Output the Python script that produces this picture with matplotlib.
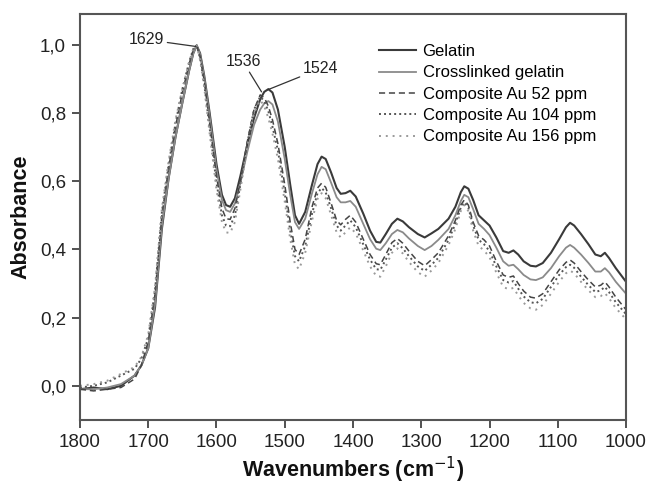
import matplotlib
matplotlib.use('Agg')
import matplotlib.pyplot as plt
import numpy as np

plt.rcParams['font.family'] = ['Liberation Sans', 'DejaVu Sans']

# 파수 (cm-1)
wavenumber = [1800, 1780, 1760, 1740, 1720, 1710, 1700, 1690, 1680, 1670,
              1660, 1650, 1640, 1634, 1629, 1624, 1618, 1610, 1600, 1592,
              1586, 1580, 1573, 1565, 1555, 1545, 1536, 1530, 1524, 1518,
              1510, 1500, 1492, 1485, 1479, 1470, 1460, 1452, 1446, 1440,
              1432, 1424, 1418, 1411, 1404, 1396, 1385, 1375, 1366, 1360,
              1352, 1343, 1335, 1327, 1318, 1305, 1295, 1285, 1275, 1260,
              1250, 1242, 1237, 1231, 1224, 1216, 1208, 1200, 1190, 1180,
              1172, 1165, 1158, 1150, 1140, 1132, 1122, 1110, 1098, 1088,
              1082, 1076, 1066, 1055, 1045, 1037, 1031, 1025, 1015, 1000]

gelatin = [-0.01, -0.005, -0.01, 0.0, 0.03, 0.06, 0.11, 0.23, 0.46, 0.61,
           0.73, 0.83, 0.925, 0.975, 0.998, 0.975, 0.91, 0.80, 0.65, 0.56,
           0.53, 0.525, 0.55, 0.615, 0.705, 0.785, 0.84, 0.862, 0.87, 0.86,
           0.81, 0.70, 0.59, 0.50, 0.475, 0.51, 0.59, 0.65, 0.672, 0.665,
           0.625, 0.58, 0.563, 0.565, 0.572, 0.555, 0.505, 0.455, 0.422, 0.42,
           0.445, 0.475, 0.49, 0.482, 0.465, 0.445, 0.435, 0.447, 0.46, 0.49,
           0.525, 0.568, 0.585, 0.578, 0.545, 0.5, 0.485, 0.47, 0.435, 0.395,
           0.39, 0.397, 0.385, 0.365, 0.352, 0.35, 0.36, 0.39, 0.43, 0.465,
           0.478, 0.47, 0.445, 0.415, 0.385, 0.38, 0.39, 0.375, 0.345, 0.305]

crosslinked = [-0.01, -0.01, -0.005, 0.005, 0.03, 0.06, 0.11, 0.24, 0.47, 0.61,
               0.73, 0.83, 0.925, 0.975, 0.998, 0.972, 0.905, 0.79, 0.635, 0.545,
               0.515, 0.51, 0.535, 0.595, 0.685, 0.765, 0.81, 0.828, 0.835, 0.825,
               0.775, 0.665, 0.56, 0.48, 0.46, 0.49, 0.565, 0.62, 0.642, 0.635,
               0.595, 0.553, 0.538, 0.538, 0.542, 0.525, 0.475, 0.43, 0.402, 0.398,
               0.418, 0.445, 0.457, 0.45, 0.432, 0.41, 0.398, 0.41, 0.428, 0.46,
               0.5, 0.542, 0.56, 0.553, 0.518, 0.475, 0.46, 0.442, 0.405, 0.365,
               0.352, 0.355, 0.342, 0.325, 0.312, 0.31, 0.318, 0.345, 0.38, 0.405,
               0.413, 0.405, 0.385, 0.36, 0.335, 0.335, 0.345, 0.333, 0.305, 0.27]

au52 = [-0.01, -0.015, -0.01, -0.005, 0.02, 0.06, 0.13, 0.27, 0.50, 0.64,
        0.76, 0.86, 0.945, 0.985, 0.998, 0.965, 0.895, 0.77, 0.615, 0.52,
        0.49, 0.488, 0.52, 0.6, 0.715, 0.81, 0.853, 0.845, 0.82, 0.78,
        0.71, 0.59, 0.48, 0.40, 0.385, 0.43, 0.525, 0.58, 0.594, 0.582,
        0.535, 0.485, 0.472, 0.488, 0.5, 0.48, 0.43, 0.385, 0.358, 0.355,
        0.385, 0.42, 0.432, 0.418, 0.395, 0.365, 0.352, 0.37, 0.39, 0.44,
        0.485, 0.53, 0.545, 0.53, 0.48, 0.44, 0.428, 0.41, 0.365, 0.325,
        0.318, 0.322, 0.3, 0.278, 0.26, 0.257, 0.27, 0.305, 0.34, 0.362,
        0.369, 0.36, 0.335, 0.31, 0.29, 0.295, 0.305, 0.29, 0.26, 0.223]

au104 = [-0.005, 0.0, 0.01, 0.03, 0.05, 0.08, 0.14, 0.28, 0.51, 0.65,
         0.77, 0.87, 0.95, 0.988, 0.998, 0.96, 0.885, 0.755, 0.595, 0.50,
         0.47, 0.468, 0.50, 0.59, 0.71, 0.81, 0.848, 0.835, 0.805, 0.76,
         0.69, 0.565, 0.455, 0.38, 0.365, 0.41, 0.505, 0.565, 0.58, 0.567,
         0.52, 0.47, 0.455, 0.47, 0.485, 0.465, 0.415, 0.37, 0.342, 0.34,
         0.37, 0.405, 0.418, 0.403, 0.38, 0.35, 0.337, 0.355, 0.375, 0.428,
         0.475, 0.523, 0.538, 0.522, 0.47, 0.428, 0.415, 0.395, 0.35, 0.31,
         0.303, 0.307, 0.285, 0.262, 0.245, 0.242, 0.255, 0.29, 0.325, 0.348,
         0.355, 0.346, 0.32, 0.295, 0.275, 0.28, 0.29, 0.275, 0.245, 0.21]

au156 = [0.0, 0.005, 0.015, 0.035, 0.055, 0.085, 0.15, 0.29, 0.52, 0.66,
         0.78, 0.87, 0.95, 0.988, 0.998, 0.955, 0.875, 0.74, 0.575, 0.48,
         0.45, 0.448, 0.48, 0.575, 0.70, 0.80, 0.838, 0.82, 0.785, 0.74,
         0.665, 0.54, 0.43, 0.355, 0.342, 0.39, 0.485, 0.548, 0.565, 0.55,
         0.5, 0.45, 0.435, 0.45, 0.465, 0.447, 0.397, 0.35, 0.322, 0.32,
         0.35, 0.39, 0.403, 0.388, 0.363, 0.333, 0.32, 0.338, 0.36, 0.413,
         0.46, 0.513, 0.53, 0.512, 0.455, 0.41, 0.397, 0.377, 0.332, 0.29,
         0.283, 0.287, 0.265, 0.243, 0.227, 0.223, 0.237, 0.27, 0.305, 0.33,
         0.338, 0.33, 0.305, 0.28, 0.26, 0.263, 0.272, 0.257, 0.228, 0.195]

series = [
    (gelatin, 'Gelatin', '#3a3a3a', '-', 1.5),
    (crosslinked, 'Crosslinked gelatin', '#8a8a8a', '-', 1.3),
    (au52, 'Composite Au 52 ppm', '#444444', (0, (4, 2.5)), 1.1),
    (au104, 'Composite Au 104 ppm', '#555555', (0, (1, 1.6)), 1.4),
    (au156, 'Composite Au 156 ppm', '#9a9a9a', (0, (1, 2.5)), 1.4),
]

# 피크 라벨: (텍스트, 텍스트 위치, 선 끝)
peak_labels = [
    ('1629', (1702, 1.015), (1630, 0.995)),
    ('1536', (1561, 0.95), (1534, 0.862)),
    ('1524', (1448, 0.93), (1525, 0.868)),
]

fig = plt.figure(figsize=(6.47, 4.86), dpi=100)
ax = fig.add_axes([0.1236, 0.136, 0.844, 0.835])

for values, label, color, style, lw in series:
    ax.plot(wavenumber, values, color=color, linestyle=style, linewidth=lw, label=label)

for text, xytext, xy in peak_labels:
    ax.annotate(text, xy=xy, xytext=xytext, ha='center', va='center', fontsize=11.5,
                color='#222222',
                arrowprops=dict(arrowstyle='-', color='#333333', lw=0.9, shrinkA=0, shrinkB=0))

ax.set_xlim(1800, 1000)
ax.set_ylim(-0.1, 1.09)
ax.set_xticks(np.arange(1800, 999, -100))
ax.set_yticks([0.0, 0.2, 0.4, 0.6, 0.8, 1.0])
ax.set_yticklabels(['0,0', '0,2', '0,4', '0,6', '0,8', '1,0'])
ax.tick_params(direction='out', length=6, width=1.2, labelsize=13.5, colors='#333333',
               labelcolor='#222222', pad=4)
for spine in ax.spines.values():
    spine.set_color('#555555')
    spine.set_linewidth(1.5)

ax.set_xlabel('Wavenumbers (cm$^{-1}$)', fontsize=15.5, fontweight='bold', labelpad=3,
              color='#111111')
ax.set_ylabel('Absorbance', fontsize=15.5, fontweight='bold', labelpad=6, color='#111111')

ax.legend(loc='upper left', bbox_to_anchor=(0.52, 0.963), frameon=False, fontsize=12,
          handlelength=2.2, handletextpad=0.42, labelspacing=0.38)

plt.savefig('out.png', dpi=100)
plt.close()
